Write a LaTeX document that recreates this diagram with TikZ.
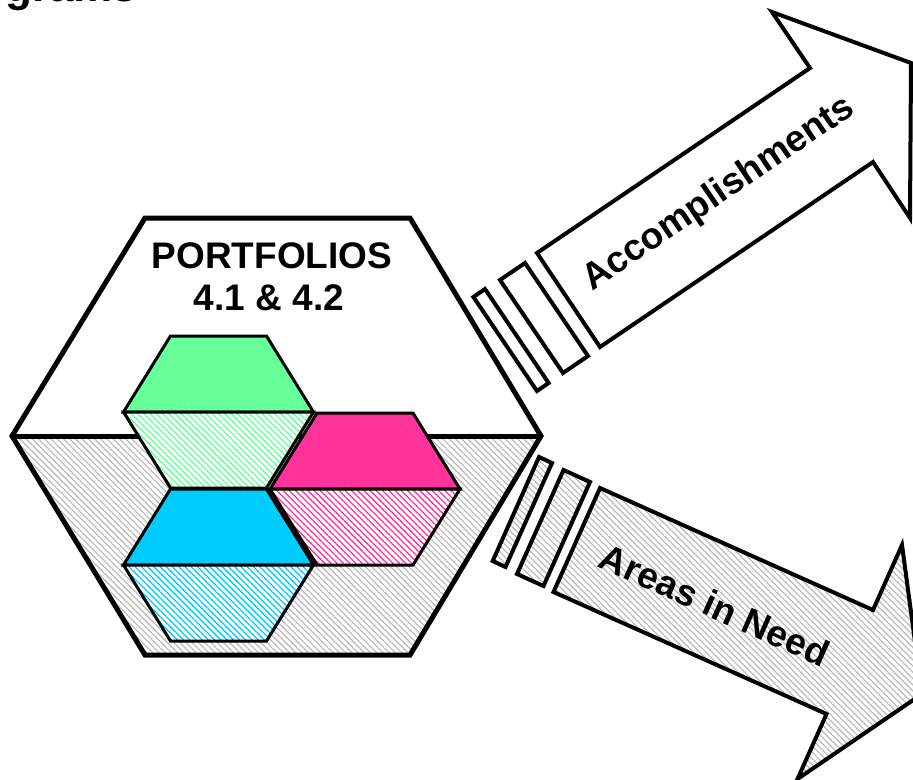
\documentclass[tikz,border=0pt]{standalone}
\usepackage{fontspec}
\setmainfont{Liberation Sans}
\usetikzlibrary{patterns.meta}
\definecolor{hgreen}{HTML}{66FF99}
\definecolor{hmag}{HTML}{FF3399}
\definecolor{hcyan}{HTML}{00CCFF}
\definecolor{hgray}{HTML}{BEBEBE}
\tikzset{
  hatch/.style={preaction={fill=white},pattern={Lines[angle=-45,distance=4.4bp,line width=1.3bp]},pattern color=#1},
  bigline/.style={line width=5bp,line join=miter},
  smallline/.style={line width=3bp,line join=miter},
  arrowline/.style={line width=4bp,line join=miter},
  label/.style={font=\fontsize{37bp}{44bp}\selectfont\bfseries,inner sep=0pt}
}
\newcommand\smallhexagon[3]{%
  \filldraw[smallline,fill=#3] (#1-95,#2) -- (#1-48,#2-76) -- (#1+48,#2-76) -- (#1+95,#2) -- cycle;
  \draw[smallline,hatch=#3] (#1-95,#2) -- (#1-48,#2+76) -- (#1+48,#2+76) -- (#1+95,#2) -- cycle;
}
\begin{document}
\begin{tikzpicture}[x=1bp,y=-1bp]
\useasboundingbox (0,0) rectangle (913,780);
\clip (0,0) rectangle (913,780);
% big hexagon
\coordinate (L) at (12,436);
\coordinate (R) at (541,436);
\fill[hatch=hgray] (L) -- (145,655) -- (410,655) -- (R) -- cycle;
\draw[bigline] (L) -- (145,218) -- (410,218) -- (R) -- (410,655) -- (145,655) -- cycle;
\draw[bigline] (L) -- (R);
% small hexagons
\smallhexagon{218.5}{412}{hgreen}
\smallhexagon{365}{489}{hmag}
\smallhexagon{218.5}{565}{hcyan}
% accomplishments arrow
\draw[arrowline,fill=white] (537,253) -- (810,68) -- (772,12) -- (911,63) -- (910,218) -- (873,162) -- (600,347) -- cycle;
\draw[arrowline,fill=white] (525,263) -- (500,280) -- (563,373) -- (588,356) -- cycle;
\draw[arrowline,fill=white] (485,289) -- (473.4,297) -- (537,391) -- (548.6,383) -- cycle;
% areas in need arrow
\draw[arrowline,hatch=hgray] (600,488) -- (873,610) -- (902,545) -- (922,694) -- (797.5,779) -- (826.5,714) -- (553.5,592) -- cycle;
\draw[arrowline,hatch=hgray] (590,482) -- (563.5,470) -- (517,574) -- (543.5,586) -- cycle;
\draw[arrowline,hatch=hgray] (552,463) -- (539,457) -- (492.7,561) -- (505.5,567) -- cycle;
% texts
\node[label,anchor=base] (p1) at (272,268) {PORTFOLIOS};
\node[label,anchor=base] (p2) at (269,310) {4.1 \& 4.2};
\node[label,rotate=34.1] (acc) at (719,194) {Accomplishments};
\node[label,rotate=-24.1] (need) at (715,605) {Areas in Need};
\node[font=\fontsize{44bp}{50bp}\selectfont\bfseries,inner sep=0pt,anchor=base west] (title) at (5,2) {grams};
\end{tikzpicture}
\end{document}
